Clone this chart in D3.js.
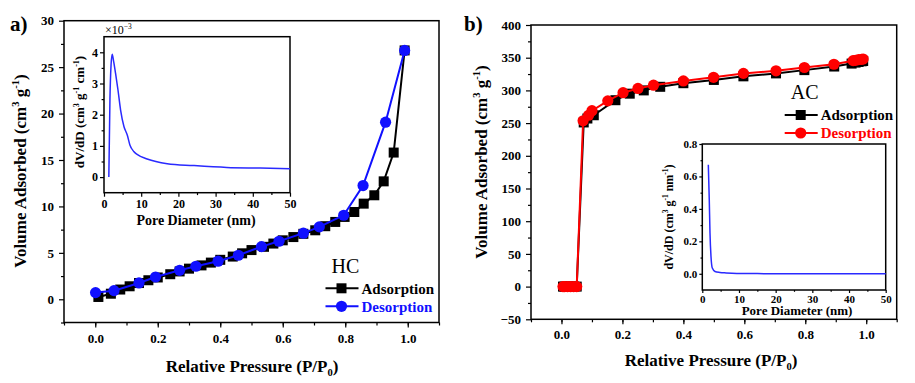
<!DOCTYPE html>
<html>
<head>
<meta charset="utf-8">
<script src="https://cdn.jsdelivr.net/npm/d3@7"></script>
<style>
  body { margin: 0; background: #fff; }
  svg { display: block; font-family: "Liberation Serif", "Times New Roman", serif; }
  .tick text { font-weight: bold; fill: #000; }
  .tick line { stroke: #000; stroke-width: 1.2; }
</style>
</head>
<body>
<div id="chart"></div>
<script>
// HC isotherm (a)
const hcAdsP = [0.01, 0.05, 0.08, 0.11, 0.14, 0.17, 0.20, 0.24, 0.27, 0.30, 0.34, 0.37, 0.40, 0.44, 0.47, 0.50, 0.54, 0.57, 0.60, 0.634, 0.666, 0.704, 0.736, 0.768, 0.798, 0.829, 0.859, 0.893, 0.923, 0.955, 0.99];
const hcAdsV = [0.25, 0.6, 1.05, 1.4, 1.75, 2.05, 2.35, 2.7, 3.0, 3.3, 3.65, 3.95, 4.25, 4.6, 4.95, 5.3, 5.65, 6.0, 6.35, 6.7, 7.05, 7.43, 7.87, 8.33, 8.87, 9.4, 10.3, 11.2, 12.7, 15.8, 26.8];
const hcDesP = [0.99, 0.929, 0.857, 0.795, 0.717, 0.666, 0.588, 0.532, 0.458, 0.393, 0.322, 0.27, 0.193, 0.14, 0.06, 0.001];
const hcDesV = [26.8, 19.07, 12.25, 9.05, 7.8, 7.12, 6.25, 5.67, 4.74, 4.1, 3.56, 3.12, 2.4, 1.76, 0.93, 0.72];
// HC pore size distribution (x10^-3)
const hcPoreD = [1.3, 1.6, 1.9, 2.2, 2.6, 3.1, 3.75, 4.46, 5.36, 6.25, 6.96, 8.0, 8.9, 11.6, 17, 24, 33, 42, 50];
const hcPoreDV = [0, 2.5, 3.6, 3.94, 3.7, 3.33, 2.8, 2.15, 1.62, 1.35, 1.03, 0.82, 0.73, 0.58, 0.43, 0.37, 0.31, 0.29, 0.27];

// AC isotherm (b)
const acAdsP = [0.005, 0.01, 0.02, 0.03, 0.04, 0.05, 0.073, 0.085, 0.106, 0.177, 0.224, 0.27, 0.324, 0.40, 0.50, 0.597, 0.704, 0.797, 0.895, 0.952, 0.965, 0.975, 0.985, 0.99];
const acAdsV = [0, 0, 0, 0, 0, 0, 251, 257, 262, 285, 295, 300, 305.5, 311, 316, 321.5, 326, 331, 336.5, 341, 342.5, 343.5, 344.5, 345];
const acDesP = [0.99, 0.985, 0.975, 0.965, 0.957, 0.894, 0.797, 0.704, 0.597, 0.499, 0.40, 0.302, 0.251, 0.202, 0.152, 0.10, 0.089, 0.071, 0.05, 0.04, 0.03, 0.02, 0.01, 0.005];
const acDesV = [348, 347.5, 347, 346, 345.5, 340, 335, 330, 326, 320, 314.5, 308, 303, 296.5, 284, 269, 262, 253.5, 0, 0, 0, 0, 0, 0];
// AC pore size distribution
const acPoreD = [1.64, 1.9, 2.1, 2.37, 2.73, 3.46, 4.8, 6.5, 9.4, 15, 25, 50];
const acPoreDV = [0.672, 0.456, 0.25, 0.107, 0.035, 0.014, 0.008, 0.005, 0.002, 0.001, 0, 0];

// tick values
const pTicks = [0, 0.2, 0.4, 0.6, 0.8, 1.0];
const hcVTicks = [0, 5, 10, 15, 20, 25, 30];
const acVTicks = [-50, 0, 50, 100, 150, 200, 250, 300, 350, 400];
const poreTicks = [0, 10, 20, 30, 40, 50];
const hcInsetTicks = [0, 1, 2, 3, 4];
const acInsetTicks = [0, 0.2, 0.4, 0.6, 0.8];

const serif = "'Liberation Serif', 'Times New Roman', serif";

const svg = d3.select("#chart").append("svg")
    .attr("width", 915)
    .attr("height", 383);

const zip = (xs, ys) => xs.map((x, i) => [x, ys[i]]);

// text with sub/superscripts; parts = [[text, "sup"|"sub"|null], ...]
function richText(g, parts, size, opts) {
    const t = g.append("text")
        .attr("text-anchor", opts.anchor || "middle")
        .attr("font-size", size + "px")
        .attr("font-weight", opts.weight || "bold")
        .attr("fill", opts.fill || "#000")
        .attr("transform", `translate(${opts.x},${opts.y})` + (opts.rotate ? " rotate(-90)" : ""));
    let shift = 0;
    parts.forEach(([s, kind]) => {
        const target = kind === "sup" ? -size * 0.4 : kind === "sub" ? size * 0.25 : 0;
        t.append("tspan")
            .attr("dy", target - shift)
            .attr("font-size", kind ? (size * 0.62) + "px" : null)
            .text(s);
        shift = target;
    });
    return t;
}

function drawAxes(g, x, y, o) {
    const [x0, x1] = x.range();
    const [y0, y1] = y.range();
    g.append("rect")
        .attr("x", x0).attr("y", y1)
        .attr("width", x1 - x0).attr("height", y0 - y1)
        .attr("fill", "#fff").attr("stroke", "#000").attr("stroke-width", o.frame || 1.5);

    const xa = g.append("g").attr("transform", `translate(0,${y0})`)
        .call(d3.axisBottom(x).tickValues(o.xTicks).tickSize(o.tick).tickPadding(o.xPad)
            .tickFormat(o.xFmt));
    xa.selectAll("text").attr("font-size", o.font + "px");
    g.append("g").attr("transform", `translate(0,${y0})`)
        .call(d3.axisBottom(x).tickValues(o.xMinor).tickSize(o.tick * 0.6).tickFormat(""));

    const ya = g.append("g").attr("transform", `translate(${x0},0)`)
        .call(d3.axisLeft(y).tickValues(o.yTicks).tickSize(o.tick).tickPadding(o.yPad)
            .tickFormat(o.yFmt));
    ya.selectAll("text").attr("font-size", o.font + "px");
    g.append("g").attr("transform", `translate(${x0},0)`)
        .call(d3.axisLeft(y).tickValues(o.yMinor).tickSize(o.tick * 0.6).tickFormat(""));

    g.selectAll(".domain").remove();
    g.selectAll("g").attr("font-family", serif);
}

function drawIsotherm(g, x, y, pts, color, shape) {
    const line = d3.line().x(d => x(d[0])).y(d => y(d[1]));
    g.append("path").datum(pts)
        .attr("d", line).attr("fill", "none")
        .attr("stroke", color).attr("stroke-width", 2);
    if (shape === "square") {
        g.selectAll(null).data(pts).enter().append("rect")
            .attr("x", d => x(d[0]) - 5).attr("y", d => y(d[1]) - 5)
            .attr("width", 10).attr("height", 10).attr("fill", color);
    } else {
        g.selectAll(null).data(pts).enter().append("circle")
            .attr("cx", d => x(d[0])).attr("cy", d => y(d[1]))
            .attr("r", 5.6).attr("fill", color);
    }
}

function drawLegend(g, lx, ly, title, titleDy, items) {
    g.append("text").attr("x", lx + 4).attr("y", ly - titleDy)
        .attr("text-anchor", "middle").attr("font-size", "20px").text(title);
    items.forEach((it, i) => {
        const cy = ly + i * 18;
        g.append("line").attr("x1", lx - 16).attr("x2", lx + 17)
            .attr("y1", cy).attr("y2", cy).attr("stroke", it.color).attr("stroke-width", 2);
        if (it.shape === "square") {
            g.append("rect").attr("x", lx - 5).attr("y", cy - 5).attr("width", 10).attr("height", 10).attr("fill", it.color);
        } else {
            g.append("circle").attr("cx", lx).attr("cy", cy).attr("r", 5.6).attr("fill", it.color);
        }
        g.append("text").attr("x", lx + 20).attr("y", cy).attr("dy", "0.35em")
            .attr("font-size", "15px").attr("font-weight", "bold").attr("fill", it.color).text(it.label);
    });
}

const range = (a, b, s) => d3.range(Math.round((b - a) / s) + 1).map(i => +(a + i * s).toFixed(4));

// ---------- panel a ----------
const ga = svg.append("g");
const xa = d3.scaleLinear().domain([-0.1, 1.1]).range([64, 439]);
const ya = d3.scaleLinear().domain([-2.5, 30]).range([322.5, 20.7]);
drawAxes(ga, xa, ya, {
    xTicks: pTicks, xMinor: range(-0.1, 1.1, 0.1), xFmt: d3.format(".1f"), xPad: 6,
    yTicks: hcVTicks, yMinor: range(-2.5, 27.5, 5), yFmt: d3.format("d"), yPad: 5,
    tick: 5, font: 13
});
drawIsotherm(ga, xa, ya, zip(hcAdsP, hcAdsV), "#000", "square");
drawIsotherm(ga, xa, ya, zip(hcDesP, hcDesV), "#1010ff", "circle");
drawLegend(ga, 341.5, 288.3, "HC", 15, [
    {label: "Adsorption", color: "#000", shape: "square"},
    {label: "Desorption", color: "#1010ff", shape: "circle"}
]);
richText(ga, [["Relative Pressure (P/P", null], ["0", "sub"], [")", null]], 17, {x: 252, y: 372});
richText(ga, [["Volume Adsorbed (cm", null], ["3", "sup"], [" g", null], ["-1", "sup"], [")", null]], 17, {x: 26, y: 171, rotate: true});
svg.append("text").attr("x", 10).attr("y", 31).attr("font-size", "21px").attr("font-weight", "bold").text("a)");

// inset a
const xai = d3.scaleLinear().domain([0, 50]).range([104, 290]);
const yai = d3.scaleLinear().domain([-0.5, 4.5]).range([192.7, 36.7]);
drawAxes(ga, xai, yai, {
    xTicks: poreTicks, xMinor: range(5, 45, 10), xFmt: d3.format("d"), xPad: 3,
    yTicks: hcInsetTicks, yMinor: range(0.5, 3.5, 1), yFmt: d3.format("d"), yPad: 2,
    tick: 4, font: 12
});
ga.append("path").datum(zip(hcPoreD, hcPoreDV))
    .attr("d", d3.line().x(d => xai(d[0])).y(d => yai(d[1])).curve(d3.curveMonotoneX))
    .attr("fill", "none").attr("stroke", "#2a2aff").attr("stroke-width", 1.5);
richText(ga, [["\u00d710", null], ["\u22123", "sup"]], 12, {x: 105, y: 34, anchor: "start", weight: "normal"});
richText(ga, [["Pore Diameter (nm)", null]], 14, {x: 196, y: 225});
richText(ga, [["dV/dD (cm", null], ["3", "sup"], [" g", null], ["-1", "sup"], [" cm", null], ["-1", "sup"], [")", null]], 13, {x: 84, y: 112, rotate: true});

// ---------- panel b ----------
const gb = svg.append("g");
const xb = d3.scaleLinear().domain([-0.1, 1.1]).range([531, 896.7]);
const yb = d3.scaleLinear().domain([-50, 400]).range([319.3, 25]);
drawAxes(gb, xb, yb, {
    xTicks: pTicks, xMinor: range(-0.1, 1.1, 0.1), xFmt: d3.format(".1f"), xPad: 5,
    yTicks: acVTicks, yMinor: range(-25, 375, 50), yFmt: d3.format("d"), yPad: 5,
    tick: 5, font: 13
});
drawIsotherm(gb, xb, yb, zip(acAdsP, acAdsV), "#000", "square");
drawIsotherm(gb, xb, yb, zip(acDesP, acDesV), "#ff0000", "circle");
drawLegend(gb, 800.7, 115, "AC", 16, [
    {label: "Adsorption", color: "#000", shape: "square"},
    {label: "Desorption", color: "#ff0000", shape: "circle"}
]);
richText(gb, [["Relative Pressure (P/P", null], ["0", "sub"], [")", null]], 17, {x: 711, y: 366});
richText(gb, [["Volume Adsorbed (cm", null], ["3", "sup"], [" g", null], ["-1", "sup"], [")", null]], 17, {x: 487, y: 162, rotate: true});
svg.append("text").attr("x", 464).attr("y", 31).attr("font-size", "21px").attr("font-weight", "bold").text("b)");

// inset b
const xbi = d3.scaleLinear().domain([0, 50]).range([702.3, 885.7]);
const ybi = d3.scaleLinear().domain([-0.1, 0.8]).range([290, 144]);
drawAxes(gb, xbi, ybi, {
    xTicks: poreTicks, xMinor: range(5, 45, 10), xFmt: d3.format("d"), xPad: 2,
    yTicks: acInsetTicks, yMinor: range(0.1, 0.7, 0.2), yFmt: d3.format(".1f"), yPad: 2,
    tick: 3, font: 11
});
gb.append("path").datum(zip(acPoreD, acPoreDV))
    .attr("d", d3.line().x(d => xbi(d[0])).y(d => ybi(d[1])).curve(d3.curveMonotoneX))
    .attr("fill", "none").attr("stroke", "#2a2aff").attr("stroke-width", 1.5);
richText(gb, [["Pore Diameter (nm)", null]], 13, {x: 797, y: 315});
richText(gb, [["dV/dD (cm", null], ["3", "sup"], [" g", null], ["-1", "sup"], [" nm", null], ["-1", "sup"], [")", null]], 12, {x: 673, y: 217, rotate: true});
</script>
</body>
</html>
